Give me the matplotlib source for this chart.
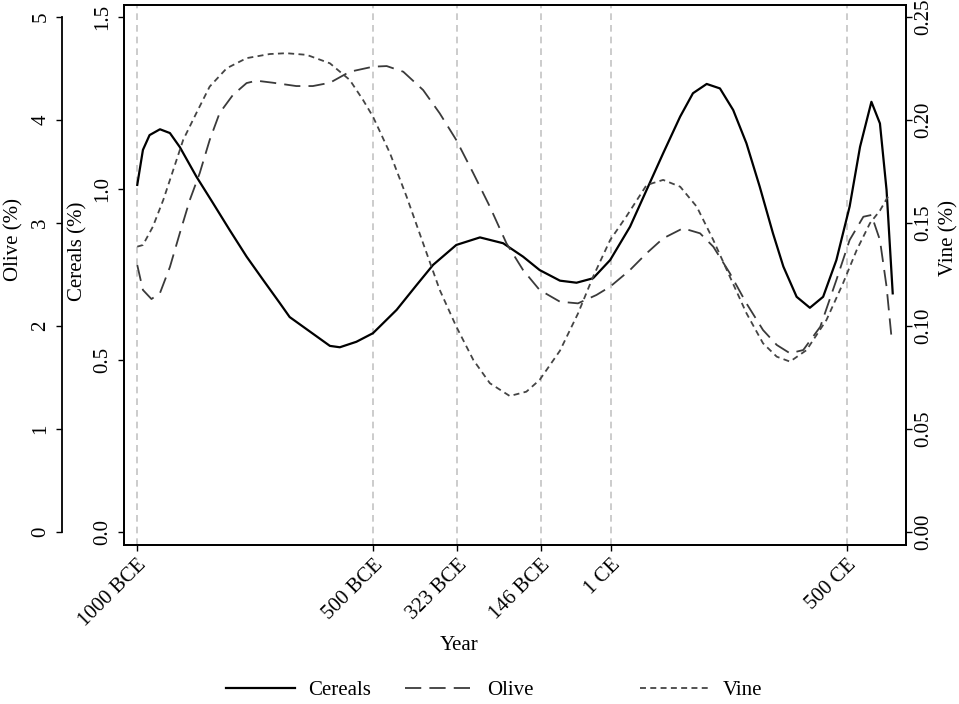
import numpy as np
import matplotlib.pyplot as plt

plt.rcParams['font.family'] = ['Liberation Serif', 'DejaVu Serif']

# values
cereal_year = [-999, -987, -973, -951, -930, -909, -874, -839, -804, -768, -733,
               -698, -677, -592, -571, -536, -501, -451, -409, -374, -325, -275,
               -226, -184, -149, -106, -71, -36, 0, 42, 77, 112, 148, 175, 204,
               232, 260, 288, 316, 344, 366, 394, 422, 450, 478, 506, 528, 552,
               570, 584, 597]
cereal_val = [1.011, 1.113, 1.156, 1.173, 1.162, 1.121, 1.035, 0.958, 0.880, 0.802, 0.734,
              0.667, 0.626, 0.542, 0.538, 0.554, 0.579, 0.647, 0.719, 0.778, 0.836, 0.858,
              0.841, 0.802, 0.763, 0.732, 0.726, 0.739, 0.792, 0.889, 0.996, 1.103, 1.210, 1.278, 1.305,
              1.292, 1.229, 1.132, 1.006, 0.870, 0.773, 0.685, 0.653, 0.685, 0.792, 0.948, 1.122, 1.253,
              1.190, 0.996, 0.695]

olive_year = [-999, -987, -969, -951, -930, -909, -888, -867, -846, -825, -797,
              -768, -747, -712, -663, -628, -592, -550, -501, -472, -437, -395,
              -360, -325, -289, -254, -219, -184, -149, -106, -68, -29, 0, 42,
              77, 112, 154, 190, 218, 253, 288, 323, 352, 380, 408, 444, 478,
              506, 535, 552, 570, 584, 595]
olive_val = [2.592, 2.350, 2.262, 2.320, 2.573, 2.903, 3.223, 3.485, 3.806, 4.068, 4.243,
             4.359, 4.382, 4.362, 4.330, 4.330, 4.362, 4.469, 4.518, 4.524, 4.469, 4.291,
             4.065, 3.806, 3.483, 3.158, 2.803, 2.544, 2.350, 2.236, 2.220, 2.301, 2.382, 2.544,
             2.706, 2.851, 2.949, 2.900, 2.770, 2.512, 2.220, 1.961, 1.816, 1.735, 1.767, 1.993, 2.447,
             2.835, 3.061, 3.078, 2.835, 2.382, 1.864]

vine_year = [-999, -987, -966, -944, -923, -902, -874, -846, -810, -768, -719,
             -684, -641, -592, -550, -522, -501, -465, -430, -395, -360, -325,
             -289, -254, -212, -177, -149, -106, -68, -36, 0, 35, 77, 112, 148,
             183, 218, 253, 288, 323, 352, 380, 415, 457, 492, 521, 549, 570, 591]
vine_val = [0.1385, 0.1393, 0.1482, 0.1612, 0.1757, 0.1903, 0.2034, 0.2162, 0.2251, 0.2300, 0.2320,
            0.2324, 0.2316, 0.2275, 0.2194, 0.2097, 0.2016, 0.1838, 0.1628, 0.1401, 0.1175, 0.0997,
            0.0835, 0.0722, 0.0660, 0.0681, 0.0738, 0.0880, 0.1060, 0.1239, 0.1417, 0.1534, 0.1684, 0.1709, 0.1676,
            0.1579, 0.1417, 0.1239, 0.1062, 0.0916, 0.0851, 0.0827, 0.0883, 0.1029, 0.1207, 0.1369, 0.1499, 0.1560, 0.1644]

event_years = [-1000, -500, -323, -146, 1, 500]
event_labels = ['1000 BCE', '500 BCE', '323 BCE', '146 BCE', '1 CE', '500 CE']

fs = 15

fig = plt.figure(figsize=(9.59, 7.04), dpi=100)
ax = fig.add_axes([0.1293, 0.2259, 0.8154, 0.767])
ax.set_xlim(-1027, 625)
ax.set_ylim(-0.0379, 1.535)

for x in event_years:
    ax.axvline(x, color='#c4c4c4', lw=1.2, ls=(0, (4, 3)), zorder=0)

l1, = ax.plot(cereal_year, cereal_val, color='black', lw=1.6, label='Cereals', zorder=3)

# olive axis, outer left
ax_ol = ax.twinx()
ax_ol.set_ylim(-0.126, 5.117)
ax_ol.yaxis.set_ticks_position('left')
ax_ol.yaxis.set_label_position('left')
ax_ol.spines['left'].set_position(('outward', 44.6))
ax_ol.spines['left'].set_bounds(0, 5)
for s in ['right', 'top', 'bottom']:
    ax_ol.spines[s].set_visible(False)
ax_ol.set_yticks([0, 1, 2, 3, 4, 5])
l2, = ax_ol.plot(olive_year, olive_val, color='#3a3a3a', lw=1.3,
                 ls=(0, (9, 4.5)), label='Olive')

# vine axis, right
ax_vn = ax.twinx()
ax_vn.set_ylim(-0.0063, 0.2558)
ax_vn.set_yticks([0, 0.05, 0.10, 0.15, 0.20, 0.25])
ax_vn.set_yticklabels(['%.2f' % v for v in [0, 0.05, 0.10, 0.15, 0.20, 0.25]])
l3, = ax_vn.plot(vine_year, vine_val, color='#444444', lw=1.3,
                 ls=(0, (3.3, 2.4)), label='Vine')

ax.set_yticks([0, 0.5, 1.0, 1.5])
ax.set_yticklabels(['0.0', '0.5', '1.0', '1.5'])
ax.set_xticks(event_years)
ax.set_xticklabels(event_labels, rotation=45, ha='right', rotation_mode='anchor')

for a in [ax, ax_ol, ax_vn]:
    a.tick_params(axis='y', labelrotation=90, direction='out', length=4.5,
                  width=1, labelsize=fs, pad=4)
    for s in a.spines.values():
        s.set_linewidth(1.3)
ax_vn.tick_params(axis='y', pad=1.5)
ax.tick_params(axis='x', direction='out', length=4.5, width=1, labelsize=fs, pad=3)
for t in ax.get_yticklabels() + ax_ol.get_yticklabels() + ax_vn.get_yticklabels():
    t.set_va('center')

ax.set_ylabel('Cereals (%)', fontsize=fs)
ax.yaxis.set_label_coords(-0.047, 0.544)
ax_ol.set_ylabel('Olive (%)', fontsize=fs)
ax_ol.yaxis.set_label_coords(-0.128, 0.565)
ax_vn.set_ylabel('Vine (%)', fontsize=fs)
ax_vn.yaxis.set_label_coords(1.042, 0.568)
ax.set_xlabel('Year', fontsize=fs)
ax.xaxis.set_label_coords(0.428, -0.169)

# legend keys placed like the original, one per column
for h, x0 in [(l1, 226), (l2, 405), (l3, 640)]:
    fig.legend(handles=[h], loc='center left', bbox_to_anchor=(x0 / 959, 1 - 690 / 704),
               frameon=False, fontsize=fs, handlelength=3.3, handletextpad=0.65,
               borderpad=0, borderaxespad=0)

fig.savefig('out.png', dpi=100)
